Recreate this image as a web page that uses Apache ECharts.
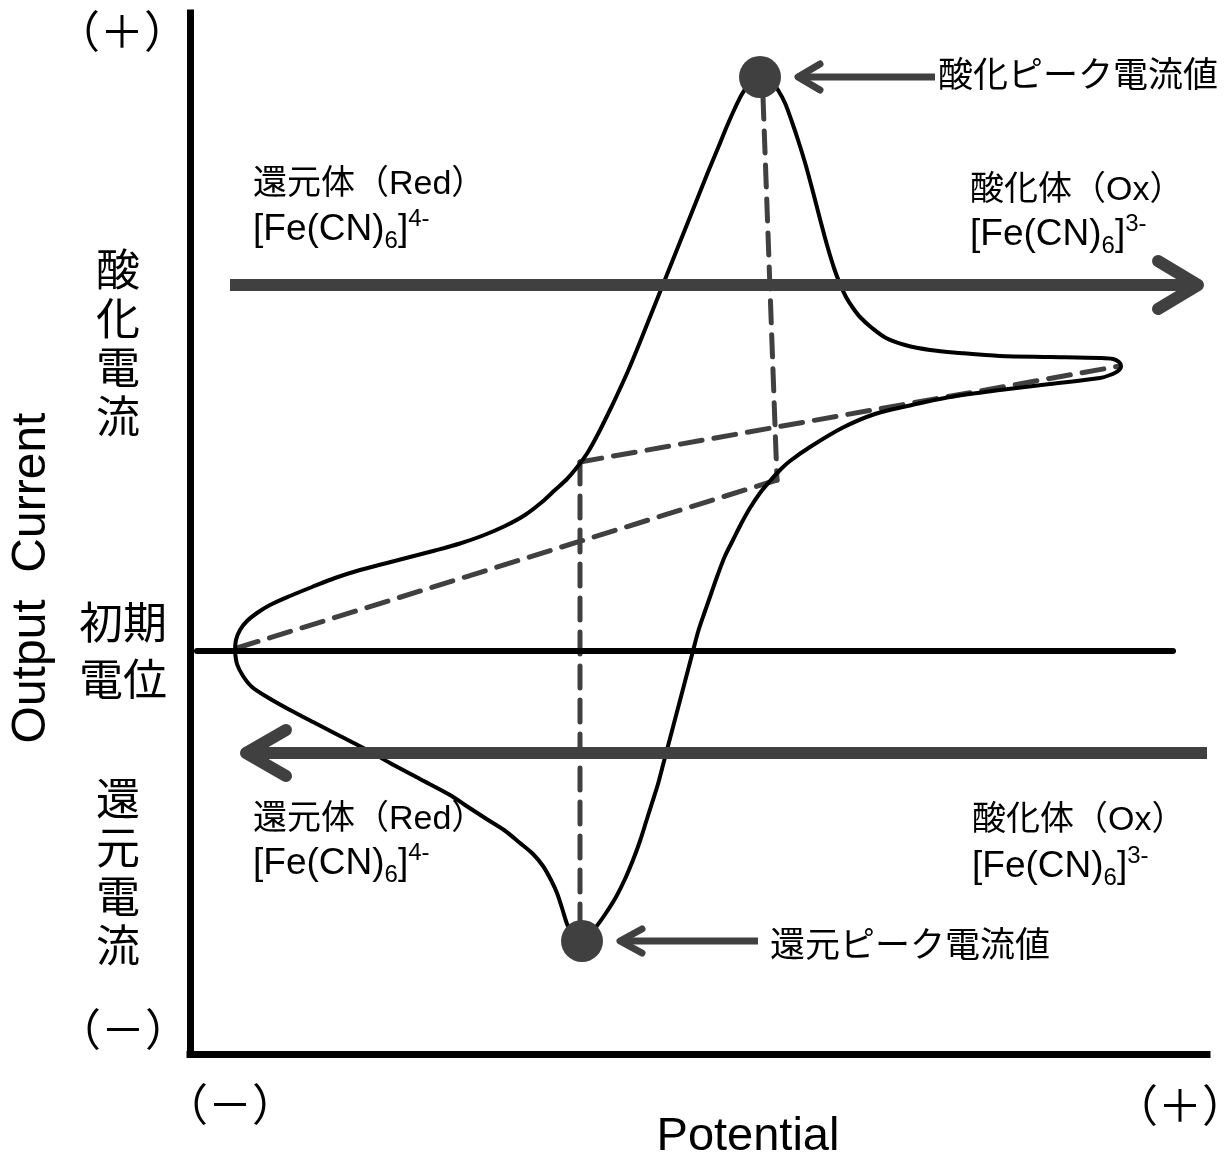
<!DOCTYPE html>
<html>
<head>
<meta charset="utf-8">
<title>サイクリックボルタモグラム</title>
<script src="https://cdn.jsdelivr.net/npm/echarts@6/dist/echarts.min.js"></script>
<style>
  html, body { margin: 0; padding: 0; background: #fff; }
  #main { width: 1232px; height: 1160px; }
</style>
</head>
<body>
<div id="main"></div>
<script>
// 電位（横軸）・電流（縦軸）の範囲  ※任意単位
var potentialRange = [0, 101.7];
var currentRange = [-40.3, 63.8];

// CV曲線（初期電位から酸化方向へ走査し、折り返して戻る）
var cvCurve = [
  [4.5, 0.0], [4.6, 1.1], [5.0, 2.1], [5.7, 3.0], [6.7, 3.8], [8.0, 4.6],
  [10.0, 5.5], [12.2, 6.4], [14.5, 7.3], [17.0, 8.1], [19.5, 8.75], [22.0, 9.4],
  [24.5, 10.05], [27.0, 10.75], [29.3, 11.55], [31.5, 12.5], [33.5, 13.6], [35.2, 14.9],
  [36.5, 16.1], [37.7, 17.2], [38.8, 18.5], [39.8, 19.9], [40.8, 21.7], [41.8, 23.7],
  [42.8, 25.8], [43.8, 28.0], [44.8, 30.4], [45.8, 32.9], [46.8, 35.4], [47.8, 37.9],
  [48.8, 40.4], [49.8, 42.9], [50.8, 45.4], [51.8, 47.9], [52.8, 50.3], [53.7, 52.5],
  [54.5, 54.3], [55.2, 55.7], [55.9, 56.7], [56.5, 57.3], [57.0, 57.5], [57.6, 57.4],
  [58.2, 56.9], [58.8, 56.1], [59.5, 54.8], [60.2, 52.9], [60.9, 50.8], [61.6, 48.5],
  [62.3, 45.9], [63.0, 43.2], [63.7, 40.6], [64.4, 38.3], [65.0, 36.7], [65.6, 35.4],
  [66.3, 34.3], [67.0, 33.4], [68.2, 32.3], [69.6, 31.3], [71.5, 30.6], [74.0, 30.1],
  [77.0, 29.8], [81.0, 29.5], [86.0, 29.4], [91.0, 29.3], [92.3, 29.2], [92.9, 28.9],
  [93.1, 28.5],
  [92.8, 28.0], [92.0, 27.6], [91.0, 27.3], [86.0, 26.7], [81.0, 26.1], [76.0, 25.4],
  [72.2, 24.6], [68.5, 23.7], [65.2, 22.3], [62.0, 20.4], [60.0, 19.0], [59.0, 18.1],
  [58.0, 17.0], [57.0, 15.8], [56.0, 14.3], [55.1, 12.7], [54.3, 11.1], [53.5, 9.5],
  [52.8, 7.7], [52.1, 5.7], [51.4, 3.7], [50.8, 1.9], [50.3, 0.0], [49.8, -1.9],
  [49.3, -3.8], [48.8, -5.7], [48.3, -7.6], [47.8, -9.5], [47.3, -11.4], [46.8, -13.3],
  [46.2, -15.2], [45.6, -17.1], [45.0, -19.0], [44.3, -20.9], [43.5, -22.8], [42.6, -24.6],
  [41.6, -26.2], [40.6, -27.6], [39.8, -28.5], [39.2, -28.9], [38.6, -28.7], [38.1, -28.1],
  [37.7, -27.3], [37.2, -25.7], [36.7, -24.2], [36.1, -22.9], [35.3, -21.5], [34.3, -20.3],
  [33.0, -19.2], [31.4, -17.9], [29.5, -16.7], [27.5, -15.4], [26.0, -14.4], [23.0, -12.8],
  [20.0, -11.2], [17.7, -9.9], [15.0, -8.5], [12.5, -7.2], [10.0, -5.9], [7.7, -4.6],
  [6.2, -3.6], [5.3, -2.5], [4.7, -1.3], [4.5, 0.0]
];

// ピーク電流値
var oxPeak = [57.0, 57.4];
var redPeak = [39.2, -29.0];

// 補助線（ベースラインとピークからの垂線）
var oxBaseline = [[4.7, 0.3], [58.7, 17.1]];
var redBaseline = [[39.0, 18.9], [93.0, 28.5]];
var oxDrop = [[57.3, 55.4], [58.7, 17.1]];
var redDrop = [[39.0, 18.9], [39.0, -26.9]];
var initialLine = [[0.7, 0], [98.3, 0]];

// 走査方向の矢印・ピーク注記の矢印
var anodicShaft = [[4.0, 36.6], [100.8, 36.6]];
var anodicHead = [[96.8, 39.0], [100.8, 36.6], [96.8, 34.2]];
var cathodicShaft = [[101.7, -10.2], [5.6, -10.2]];
var cathodicHead = [[9.6, -7.9], [5.6, -10.2], [9.6, -12.5]];
var oxCallout = [[74.5, 57.4], [60.8, 57.4]];
var oxCalloutHead = [[63.0, 58.7], [60.8, 57.4], [63.0, 56.1]];
var redCallout = [[56.8, -29.0], [43.0, -29.0]];
var redCalloutHead = [[45.2, -27.8], [43.0, -29.0], [45.2, -30.2]];

var GRAY = '#404040';
var FONT = '"Liberation Sans", "Noto Sans CJK JP", sans-serif';

var chart = echarts.init(document.getElementById('main'));

function seg(data, color, width, dash, z) {
  return {
    type: 'line',
    data: data,
    showSymbol: false,
    symbol: 'none',
    clip: false,
    silent: true,
    z: z || 2,
    lineStyle: { color: color, width: width, type: dash || 'solid', cap: 'round', join: 'round' }
  };
}
function shaft(data, width, z) {
  var s = seg(data, GRAY, width, 'solid', z);
  s.lineStyle.cap = 'butt';
  return s;
}

function txt(x, y, text, size, align, extra) {
  var style = {
    text: text, x: 0, y: 0,
    fill: '#000',
    fontSize: size,
    fontFamily: FONT,
    textAlign: align || 'center', align: align || 'center',
    textVerticalAlign: 'middle', verticalAlign: 'middle'
  };
  if (extra) { for (var k in extra) style[k] = extra[k]; }
  return { type: 'text', x: x, y: y, z: 100, silent: true, style: style };
}
var formulaRich = {
  sub: { fontSize: 24, fontFamily: FONT, lineHeight: 24, verticalAlign: 'bottom', fill: '#000' },
  sup: { fontSize: 24, fontFamily: FONT, lineHeight: 24, verticalAlign: 'top', fill: '#000' }
};
function formula(x, y, charge) {
  return txt(x, y, '[Fe(CN){sub|6}]{sup|' + charge + '}', 37, 'left', { rich: formulaRich, lineHeight: 46 });
}

var option = {
  animation: false,
  backgroundColor: '#fff',
  grid: { left: 190, right: 25, top: 13, bottom: 106 },
  xAxis: {
    type: 'value', min: potentialRange[0], max: potentialRange[1],
    axisLine: { onZero: false, lineStyle: { color: '#000', width: 7, cap: 'square' } },
    axisTick: { show: false }, axisLabel: { show: false }, splitLine: { show: false }
  },
  yAxis: {
    type: 'value', min: currentRange[0], max: currentRange[1],
    axisLine: { onZero: false, lineStyle: { color: '#000', width: 7, cap: 'square' } },
    axisTick: { show: false }, axisLabel: { show: false }, splitLine: { show: false }
  },
  series: [
    seg(oxBaseline, GRAY, 5, [22, 12], 2),
    seg(redBaseline, GRAY, 5, [22, 12], 2),
    seg(oxDrop, GRAY, 5, [22, 12], 2),
    seg(redDrop, GRAY, 5, [22, 12], 2),
    seg(initialLine, '#000', 6, 'solid', 3),
    {
      type: 'line', data: cvCurve, smooth: 0.3, showSymbol: false, symbol: 'none',
      clip: false, silent: true, z: 4,
      lineStyle: { color: '#000', width: 4, join: 'round' }
    },
    shaft(anodicShaft, 12, 5), seg(anodicHead, GRAY, 12, 'solid', 5),
    shaft(cathodicShaft, 12, 5), seg(cathodicHead, GRAY, 12, 'solid', 5),
    shaft(oxCallout, 7, 5), seg(oxCalloutHead, GRAY, 7, 'solid', 5),
    shaft(redCallout, 7, 5), seg(redCalloutHead, GRAY, 7, 'solid', 5),
    {
      type: 'scatter', data: [oxPeak, redPeak], symbol: 'circle', symbolSize: 42,
      clip: false, silent: true, z: 6,
      itemStyle: { color: GRAY, opacity: 1 }
    }
  ],
  graphic: [
    txt(122, 36, '（＋）', 44),
    txt(123, 1034, '（－）', 44),
    txt(230, 1109, '（－）', 44),
    txt(1180, 1110, '（＋）', 44),
    txt(748, 1137, 'Potential', 47),
    {
      type: 'text', x: 32, y: 578, rotation: Math.PI / 2, z: 100, silent: true,
      style: { text: 'Output  Current', fill: '#000', fontSize: 48, fontFamily: FONT,
        textAlign: 'center', align: 'center', textVerticalAlign: 'middle', verticalAlign: 'middle' }
    },
    txt(118, 347, '酸\n化\n電\n流', 44, 'center', { lineHeight: 49 }),
    txt(123, 655, '初期\n電位', 44, 'center', { lineHeight: 57 }),
    txt(118, 876, '還\n元\n電\n流', 44, 'center', { lineHeight: 49 }),
    txt(253, 185, '還元体（Red）', 34, 'left'),
    formula(253, 230, '4-'),
    txt(970, 191, '酸化体（Ox）', 34, 'left'),
    formula(970, 235, '3-'),
    txt(253, 820, '還元体（Red）', 34, 'left'),
    formula(253, 864, '4-'),
    txt(972, 821, '酸化体（Ox）', 34, 'left'),
    formula(972, 867, '3-'),
    txt(938, 77, '酸化ピーク電流値', 35, 'left'),
    txt(770, 947, '還元ピーク電流値', 35, 'left')
  ]
};

chart.setOption(option);
</script>
</body>
</html>
